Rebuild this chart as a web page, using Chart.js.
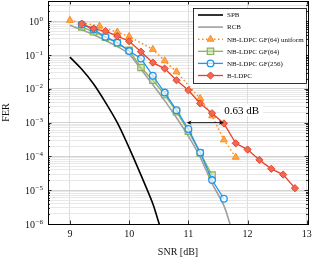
<!DOCTYPE html>
<html>
<head>
<meta charset="utf-8">
<script src="https://cdn.jsdelivr.net/npm/chart.js@4.4.1/dist/chart.umd.min.js"></script>
<style>
  html, body { margin: 0; padding: 0; background: #fff; }
  canvas { display: block; }
</style>
</head>
<body>
<canvas id="fer-chart" width="319" height="258"></canvas>
<script>
// values (SNR in dB, FER)
const snrSpb = [9.0, 9.2, 9.4, 9.6, 9.8, 10.0, 10.2, 10.4, 10.5, 10.53];
const ferSpb = [8.7e-2, 3.8e-2, 1.4e-2, 4.0e-3, 1.0e-3, 1.8e-4, 2.8e-5, 4.0e-6, 1.1e-6, 8e-7];

const snrRcb = [9.0, 9.2, 9.4, 9.6, 9.8, 10.0, 10.2, 10.4, 10.6, 10.8, 11.0, 11.2, 11.4, 11.6, 11.72];
const ferRcb = [0.76, 0.56, 0.40, 0.27, 0.18, 0.107, 0.038, 0.0132, 4.5e-3, 1.4e-3, 4.0e-4, 9.5e-5, 1.6e-5, 3.5e-6, 8e-7];

const snrUniform = [9.0, 9.5, 9.8, 10.0, 10.4, 10.6, 10.8, 11.2, 11.4, 11.6, 11.8];
const ferUniform = [1.07, 0.72, 0.48, 0.355, 0.148, 0.068, 0.032, 5.2e-3, 1.6e-3, 3.1e-4, 9.5e-5];

const snrGf64 = [9.2, 9.4, 9.6, 9.8, 10.0, 10.2, 10.4, 10.6, 10.8, 11.0, 11.2, 11.4];
const ferGf64 = [0.68, 0.49, 0.34, 0.23, 0.138, 0.043, 0.018, 6.8e-3, 2.1e-3, 5.6e-4, 1.26e-4, 2.8e-5];

const snrGf256 = [9.2, 9.4, 9.6, 9.8, 10.0, 10.2, 10.4, 10.6, 10.8, 11.0, 11.2, 11.4, 11.6];
const ferGf256 = [0.81, 0.575, 0.347, 0.234, 0.132, 0.079, 0.0245, 7.8e-3, 2.35e-3, 6.5e-4, 1.3e-4, 2.0e-5, 5.6e-6];

const snrBldpc = [9.2, 9.4, 9.6, 9.8, 10.0, 10.2, 10.4, 10.6, 10.8, 11.0, 11.2, 11.4, 11.6, 11.8, 12.0, 12.2, 12.4, 12.6, 12.8];
const ferBldpc = [0.85, 0.60, 0.51, 0.363, 0.257, 0.126, 0.060, 0.040, 0.018, 9.1e-3, 3.7e-3, 1.9e-3, 9.5e-4, 2.45e-4, 1.6e-4, 7.9e-5, 4.3e-5, 2.9e-5, 1.15e-5];

const xTicks = [9, 10, 11, 12, 13];
const yExponents = [0, -1, -2, -3, -4, -5, -6];

// gap annotation at FER = 1e-3
const gapSnr = [10.97, 11.60];
const gapFer = 1e-3;
const gapText = '0.63 dB';
const gapTextPos = [11.9, 2.35e-3];

const serif = '"Liberation Serif", "DejaVu Serif", serif';

function pts(xs, ys) {
    return xs.map(function (x, i) { return { x: x, y: ys[i] }; });
}

// black frame around the axes with inward ticks
const framePlugin = {
    id: 'frame',
    afterDraw: function (chart) {
        var ctx = chart.ctx, a = chart.chartArea;
        var xs = chart.scales.x, ys = chart.scales.y;
        ctx.save();
        ctx.strokeStyle = '#000';
        ctx.lineWidth = 0.8;
        ctx.beginPath();
        xTicks.forEach(function (v) {
            var px = Math.round(xs.getPixelForValue(v)) + 0.5;
            ctx.moveTo(px, a.bottom); ctx.lineTo(px, a.bottom - 3.5);
            ctx.moveTo(px, a.top); ctx.lineTo(px, a.top + 3.5);
        });
        ys.ticks.forEach(function (t) {
            var py = Math.round(ys.getPixelForValue(t.value)) + 0.5;
            var len = t.major ? 3.5 : 2;
            ctx.moveTo(a.left, py); ctx.lineTo(a.left + len, py);
            ctx.moveTo(a.right, py); ctx.lineTo(a.right - len, py);
        });
        ctx.stroke();
        ctx.lineWidth = 1;
        ctx.strokeRect(a.left + 0.5, a.top + 0.5, a.right - a.left, a.bottom - a.top);
        ctx.restore();
    }
};

// y tick labels as 10 with raised exponent
const yLabelPlugin = {
    id: 'yLabels',
    afterDraw: function (chart) {
        var ctx = chart.ctx, ys = chart.scales.y;
        var right = chart.chartArea.left - 5;
        ctx.save();
        ctx.fillStyle = '#111';
        ctx.textBaseline = 'alphabetic';
        yExponents.forEach(function (e) {
            var py = ys.getPixelForValue(Math.pow(10, e));
            var expStr = e < 0 ? '\u2212' + (-e) : String(e);
            ctx.font = '7px ' + serif;
            var ew = ctx.measureText(expStr).width;
            ctx.textAlign = 'left';
            ctx.fillText(expStr, right - ew, py - 0.5);
            ctx.font = '10px ' + serif;
            ctx.textAlign = 'right';
            ctx.fillText('10', right - ew - 0.5, py + 3.5);
        });
        ctx.restore();
    }
};

// double arrow with the gap label
const gapPlugin = {
    id: 'gap',
    afterDatasetsDraw: function (chart) {
        var ctx = chart.ctx, xs = chart.scales.x, ys = chart.scales.y;
        var x1 = xs.getPixelForValue(gapSnr[0]);
        var x2 = xs.getPixelForValue(gapSnr[1]);
        var y = ys.getPixelForValue(gapFer);
        ctx.save();
        ctx.strokeStyle = '#000';
        ctx.fillStyle = '#000';
        ctx.lineWidth = 0.9;
        ctx.beginPath();
        ctx.moveTo(x1 + 3, y); ctx.lineTo(x2 - 3, y);
        ctx.stroke();
        [[x1, 1], [x2, -1]].forEach(function (h) {
            ctx.beginPath();
            ctx.moveTo(h[0], y);
            ctx.lineTo(h[0] + h[1] * 5, y - 2.2);
            ctx.lineTo(h[0] + h[1] * 3.5, y);
            ctx.lineTo(h[0] + h[1] * 5, y + 2.2);
            ctx.closePath();
            ctx.fill();
        });
        var tx = xs.getPixelForValue(gapTextPos[0]);
        var ty = ys.getPixelForValue(gapTextPos[1]);
        ctx.font = '11px ' + serif;
        var w = ctx.measureText(gapText).width;
        ctx.fillStyle = '#fff';
        ctx.fillRect(tx - w / 2 - 4, ty - 6, w + 8, 12);
        ctx.fillStyle = '#000';
        ctx.textAlign = 'center';
        ctx.textBaseline = 'middle';
        ctx.fillText(gapText, tx, ty + 0.5);
        ctx.restore();
    }
};

// legend box in the upper right corner
const legendPlugin = {
    id: 'boxLegend',
    afterDraw: function (chart) {
        var ctx = chart.ctx, a = chart.chartArea;
        var bx = a.right - 115, by = a.top + 7, bw = 113, bh = 75;
        ctx.save();
        ctx.fillStyle = '#fff';
        ctx.fillRect(bx, by, bw, bh);
        ctx.strokeStyle = '#000';
        ctx.lineWidth = 0.8;
        ctx.strokeRect(bx + 0.5, by + 0.5, bw, bh);
        chart.data.datasets.forEach(function (ds, i) {
            var y = by + 7 + i * 12.1;
            var x0 = bx + 5, x1 = bx + 30;
            ctx.save();
            ctx.strokeStyle = ds.borderColor;
            ctx.lineWidth = ds.borderWidth;
            ctx.setLineDash(ds.borderDash || []);
            ctx.beginPath();
            ctx.moveTo(x0, y); ctx.lineTo(x1, y);
            ctx.stroke();
            ctx.restore();
            if (ds.pointRadius > 0) {
                ctx.fillStyle = ds.pointBackgroundColor;
                ctx.strokeStyle = ds.borderColor;
                ctx.lineWidth = ds.pointBorderWidth;
                Chart.helpers.drawPoint(ctx, {
                    pointStyle: ds.pointStyle,
                    radius: ds.pointRadius,
                    rotation: 0,
                    borderWidth: ds.pointBorderWidth
                }, (x0 + x1) / 2, y);
            }
            ctx.fillStyle = '#111';
            ctx.font = '7px ' + serif;
            ctx.textAlign = 'left';
            ctx.textBaseline = 'middle';
            ctx.fillText(ds.label, x1 + 4, y + 0.5);
        });
        ctx.restore();
    }
};

var ctx = document.getElementById('fer-chart').getContext('2d');
var ferChart = new Chart(ctx, {
    type: 'line',
    data: {
        datasets: [{
            label: 'SPB',
            data: pts(snrSpb, ferSpb),
            borderColor: '#000000',
            borderWidth: 1.6,
            pointRadius: 0,
            tension: 0.3,
            order: 6
        }, {
            label: 'RCB',
            data: pts(snrRcb, ferRcb),
            borderColor: '#a0a0a0',
            borderWidth: 1.6,
            pointRadius: 0,
            tension: 0.3,
            order: 5
        }, {
            label: 'NB-LDPC GF(64) uniform',
            data: pts(snrUniform, ferUniform),
            borderColor: '#ff8c1a',
            borderWidth: 1.5,
            borderDash: [1.5, 2.5],
            pointStyle: 'triangle',
            pointRadius: 4,
            pointBorderWidth: 1,
            pointBackgroundColor: '#ffa64d',
            order: 4
        }, {
            label: 'NB-LDPC GF(64)',
            data: pts(snrGf64, ferGf64),
            borderColor: '#8cb05a',
            borderWidth: 1.3,
            pointStyle: 'rect',
            pointRadius: 4.5,
            pointBorderWidth: 1.2,
            pointBackgroundColor: 'rgba(200,220,170,0.6)',
            order: 3
        }, {
            label: 'NB-LDPC GF(256)',
            data: pts(snrGf256, ferGf256),
            borderColor: '#1e96f0',
            borderWidth: 1.3,
            pointStyle: 'circle',
            pointRadius: 3.3,
            pointBorderWidth: 1.3,
            pointBackgroundColor: 'rgba(255,255,255,0.7)',
            order: 2
        }, {
            label: 'B-LDPC',
            data: pts(snrBldpc, ferBldpc),
            borderColor: '#e8402a',
            borderWidth: 1.3,
            pointStyle: 'rectRot',
            pointRadius: 3.6,
            pointBorderWidth: 1,
            pointBackgroundColor: '#ee6a52',
            order: 1
        }]
    },
    options: {
        responsive: false,
        animation: false,
        devicePixelRatio: 1,
        layout: { autoPadding: false, padding: { top: 1, right: 11, left: 0, bottom: 0 } },
        plugins: {
            legend: { display: false },
            tooltip: { enabled: false }
        },
        scales: {
            x: {
                type: 'linear',
                min: 8.63,
                max: 13.02,
                afterBuildTicks: function (s) { s.ticks = xTicks.map(function (v) { return { value: v }; }); },
                afterFit: function (s) { s.height = 34; },
                border: { display: false },
                grid: { color: '#d4d4d4', lineWidth: 0.8, drawTicks: false },
                ticks: {
                    color: '#111',
                    font: { family: serif, size: 10 },
                    padding: 4,
                    maxRotation: 0,
                    callback: function (v) { return String(v); }
                },
                title: {
                    display: true,
                    text: 'SNR [dB]',
                    color: '#111',
                    font: { family: serif, size: 10 },
                    padding: { top: 2, bottom: 0 }
                }
            },
            y: {
                type: 'logarithmic',
                min: 1e-6,
                max: 4,
                afterBuildTicks: function (s) {
                    var t = [];
                    for (var e = -6; e <= 0; e++) {
                        for (var k = 1; k <= 9; k++) {
                            var v = k * Math.pow(10, e);
                            if (v <= 4) t.push({ value: v, major: k === 1 });
                        }
                    }
                    s.ticks = t;
                },
                afterFit: function (s) { s.width = 48; },
                border: { display: false },
                grid: {
                    drawTicks: false,
                    lineWidth: 0.8,
                    color: function (c) { return c.tick && c.tick.major ? '#c8c8c8' : '#e2e2e2'; }
                },
                ticks: { display: false },
                title: {
                    display: true,
                    text: 'FER',
                    color: '#111',
                    font: { family: serif, size: 10 },
                    padding: { top: 0, bottom: 0 }
                }
            }
        }
    },
    plugins: [framePlugin, yLabelPlugin, gapPlugin, legendPlugin]
});
</script>
</body>
</html>
